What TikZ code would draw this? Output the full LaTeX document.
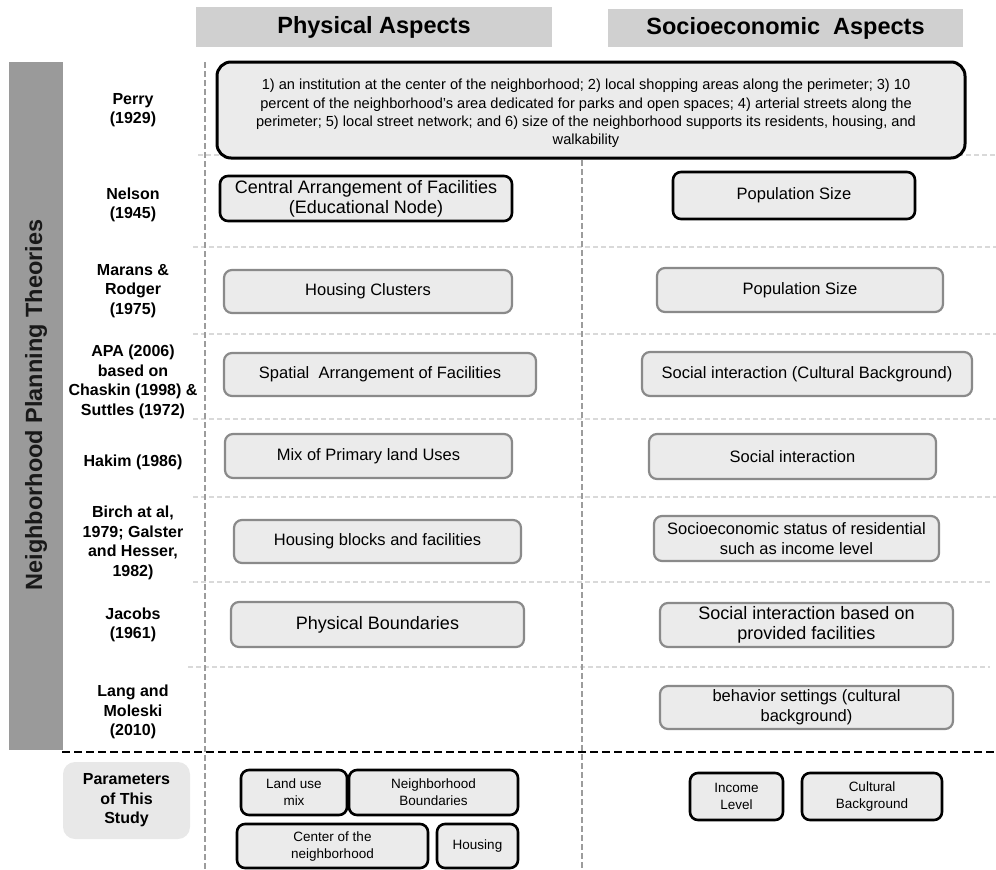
\documentclass[tikz,border=0pt]{standalone}
\usepackage{fontspec}
\setmainfont{Liberation Sans}
\definecolor{hdrgray}{HTML}{D0D0D0}
\definecolor{bargray}{HTML}{9A9A9A}
\definecolor{boxfill}{HTML}{EBEBEB}
\definecolor{bordergray}{HTML}{8A8A8A}
\definecolor{sepgray}{HTML}{D9D9D9}
\definecolor{vgray}{HTML}{9C9C9C}
\definecolor{parfill}{HTML}{E8E8E8}
\begin{document}
\begin{tikzpicture}[x=1pt,y=-1pt,
  hdr/.style={fill=hdrgray, inner sep=0pt, font=\fontsize{23.5}{27}\selectfont\bfseries},
  lbl/.style={align=center, inner sep=0pt, font=\fontsize{16}{19.5}\selectfont\bfseries},
  gbox/.style={draw=bordergray, line width=2.2pt, fill=boxfill, rounded corners=8pt, align=center, inner sep=0pt, font=\fontsize{16.5}{20}\selectfont},
  kbox/.style={draw=black, line width=2.6pt, fill=boxfill, rounded corners=8pt, align=center, inner sep=0pt, font=\fontsize{16.5}{20}\selectfont},
  sbox/.style={kbox, font=\fontsize{13.5}{17}\selectfont},
  rowsep/.style={draw=sepgray, line width=1.5pt, dash pattern=on 5pt off 3pt},
  vsep/.style={draw=vgray, line width=2pt, dash pattern=on 6pt off 3pt},
]
\useasboundingbox (0,0) rectangle (996,870);

% headers
\node[hdr, minimum width=356pt, minimum height=40pt] (hphys) at (374,27) {Physical Aspects};
\node[hdr, minimum width=355pt, minimum height=38pt] (hsoc) at (785.5,28) {Socioeconomic\ \ Aspects};

% left bar
\fill[bargray] (9,62) rectangle (63,750);
\node[rotate=90, inner sep=0pt, font=\fontsize{23.5}{28}\selectfont\bfseries, text=black!90] (vtitle) at (36,405) {Neighborhood Planning Theories};

% row separators
\draw[rowsep] (198,155) -- (996,155);
\draw[rowsep] (193,247) -- (996,247);
\draw[rowsep] (193,334) -- (996,334);
\draw[rowsep] (193,419) -- (996,419);
\draw[rowsep] (193,497) -- (996,497);
\draw[rowsep] (193,582) -- (992,582);
\draw[rowsep] (188,667) -- (990,667);

% vertical dashed lines
\draw[vsep] (205,62) -- (205,870);
\draw[vsep] (582,160) -- (582,870);

% thick black dashed
\draw[black, line width=2.6pt, dash pattern=on 8pt off 4pt] (62,752) -- (996,752);

% row labels
\node[lbl] (lperry) at (133,110) {Perry\\(1929)};
\node[lbl] (lnelson) at (133,205) {Nelson\\(1945)};
\node[lbl] (lmarans) at (133,291) {Marans \&\\Rodger\\(1975)};
\node[lbl] (lapa) at (133,382) {APA (2006)\\based on\\Chaskin (1998) \&\\Suttles (1972)};
\node[lbl] (lhakim) at (133,462) {Hakim (1986)};
\node[lbl] (lbirch) at (133,543) {Birch at al,\\1979; Galster\\and Hesser,\\1982)};
\node[lbl] (ljacobs) at (133,625) {Jacobs\\(1961)};
\node[lbl] (llang) at (133,712) {Lang and\\Moleski\\(2010)};

% Perry box
\node[draw=black, line width=3pt, fill=boxfill, rounded corners=14pt, inner sep=0pt,
  minimum width=748pt, minimum height=96pt] (perry) at (591,110) {};
\node[align=center, inner sep=0pt, font=\fontsize{14.6}{18.3}\selectfont] (perrytxt) at (586,113.5)
  {1) an institution at the center of the neighborhood; 2) local shopping areas along the perimeter; 3) 10\\
   percent of the neighborhood's area dedicated for parks and open spaces; 4) arterial streets along the\\
   perimeter; 5) local street network; and 6) size of the neighborhood supports its residents, housing, and\\
   walkability};

% Nelson
\node[kbox, minimum width=292pt, minimum height=45pt, font=\fontsize{18}{20}\selectfont] (nphys) at (366,198.5) {Central Arrangement of Facilities\\(Educational Node)};
\node[kbox, minimum width=242pt, minimum height=47pt] (nsoc) at (794,195.5) {Population\ Size};

% Marans
\node[gbox, minimum width=288pt, minimum height=43pt] (mphys) at (368,291.5) {Housing Clusters};
\node[gbox, minimum width=286pt, minimum height=44pt] (msoc) at (800,290) {Population Size};

% APA
\node[gbox, minimum width=312pt, minimum height=43pt] (aphys) at (380,374.5) {Spatial\ \ Arrangement of Facilities};
\node[gbox, minimum width=330pt, minimum height=44pt] (asoc) at (807,374) {Social interaction (Cultural Background)};

% Hakim
\node[gbox, minimum width=287pt, minimum height=44pt] (hkphys) at (368.5,456) {Mix of Primary land Uses};
\node[gbox, minimum width=287pt, minimum height=45pt] (hksoc) at (792.5,456.5) {Social\ interaction};

% Birch
\node[gbox, minimum width=287pt, minimum height=43pt] (bphys) at (377.5,541.5) {Housing blocks and facilities};
\node[gbox, minimum width=285pt, minimum height=45pt] (bsoc) at (796.5,538.5) {Socioeconomic status of residential\\such as income level};

% Jacobs
\node[gbox, minimum width=293pt, minimum height=45pt, font=\fontsize{18}{20}\selectfont] (jphys) at (377.5,624.5) {Physical Boundaries};
\node[gbox, minimum width=293pt, minimum height=44pt, font=\fontsize{18}{20}\selectfont] (jsoc) at (806.5,625) {Social interaction based on\\provided facilities};

% Lang
\node[gbox, minimum width=293pt, minimum height=43pt] (lsoc) at (806.5,707.5) {behavior settings (cultural\\background)};

% Parameters of this study
\node[fill=parfill, rounded corners=12pt, minimum width=127pt, minimum height=77pt, inner sep=0pt, lbl] (params) at (126.5,800.5) {Parameters\\of This\\Study};
\node[sbox, minimum width=106pt, minimum height=45pt] (landuse) at (294,792.5) {Land use\\mix};
\node[sbox, minimum width=169pt, minimum height=45pt] (nbound) at (433.5,792.5) {Neighborhood\\Boundaries};
\node[sbox, minimum width=191pt, minimum height=44pt] (center) at (332.5,846) {Center of the\\neighborhood};
\node[sbox, minimum width=81pt, minimum height=44pt] (housing) at (477.5,846) {Housing};
\node[sbox, minimum width=93pt, minimum height=47pt] (income) at (736.5,796.5) {Income\\Level};
\node[sbox, minimum width=140pt, minimum height=47pt] (cultural) at (872,796.5) {Cultural\\Background};

\end{tikzpicture}
\end{document}
